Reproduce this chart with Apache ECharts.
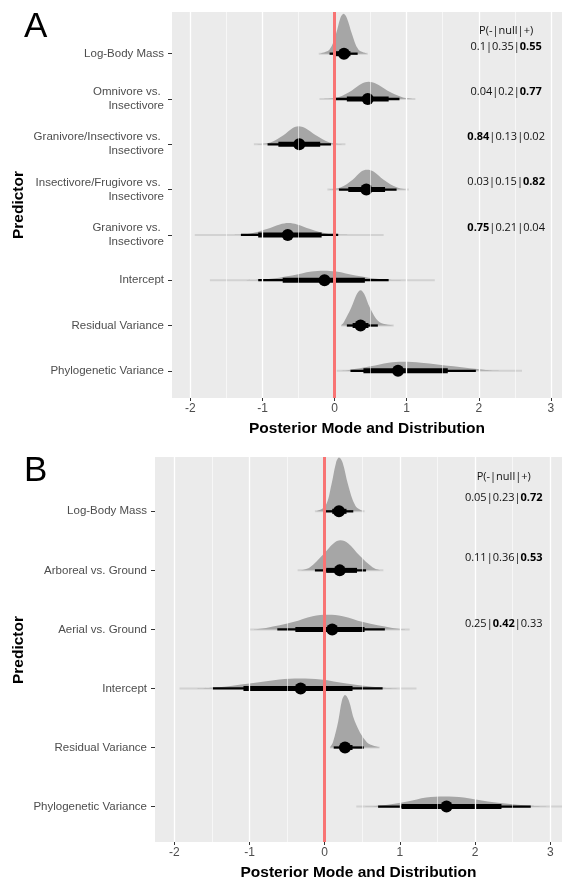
<!DOCTYPE html>
<html>
<head>
<meta charset="utf-8">
<title>Posterior mode and distribution</title>
<script src="https://cdn.jsdelivr.net/npm/echarts@6/dist/echarts.min.js"></script>
<style>
  html, body { margin: 0; padding: 0; background: #fff; }
  #chart { width: 562px; height: 882px; }
</style>
</head>
<body>
<div id="chart"></div>
<script>
// ---- panel A (diet model), rows listed top to bottom ----
const predictorsA = ['Log-Body Mass', 'Omnivore vs. \nInsectivore', 'Granivore/Insectivore vs. \nInsectivore',
  'Insectivore/Frugivore vs. \nInsectivore', 'Granivore vs. \nInsectivore', 'Intercept',
  'Residual Variance', 'Phylogenetic Variance']
const modesA = [0.13, 0.46, -0.49, 0.44, -0.65, -0.14, 0.36, 0.88]
const thickA = [[-0.01, 0.22], [0.17, 0.75], [-0.78, -0.2], [0.19, 0.7], [-1.06, -0.18], [-0.72, 0.42], [0.25, 0.47], [0.4, 1.57]]
const thinA = [[-0.07, 0.32], [0.0, 0.9], [-0.93, -0.05], [0.06, 0.86], [-1.3, 0.05], [-1.06, 0.75], [0.17, 0.6], [0.22, 1.96]]
const tailsA = [[-0.22, 0.46], [-0.21, 1.12], [-1.12, 0.15], [-0.1, 1.03], [-1.94, 0.68], [-1.73, 1.39], [0.09, 0.82], [0.03, 2.6]]
// density outline: [x, height in row units]
const densityA = [
  [[-0.20, 0], [-0.07, 0.09], [0.02, 0.44], [0.08, 0.79], [0.125, 0.88], [0.17, 0.79], [0.24, 0.44], [0.33, 0.09], [0.45, 0]],
  [[-0.18, 0], [0.05, 0.04], [0.24, 0.19], [0.38, 0.34], [0.47, 0.38], [0.57, 0.34], [0.73, 0.19], [0.94, 0.04], [1.1, 0]],
  [[-1.1, 0], [-0.89, 0.04], [-0.71, 0.2], [-0.58, 0.36], [-0.5, 0.40], [-0.41, 0.36], [-0.26, 0.2], [-0.07, 0.04], [0.13, 0]],
  [[-0.08, 0], [0.08, 0.044], [0.25, 0.22], [0.37, 0.40], [0.45, 0.44], [0.54, 0.40], [0.68, 0.22], [0.87, 0.044], [1.02, 0]],
  [[-1.40, 0], [-1.18, 0.026], [-0.94, 0.13], [-0.76, 0.23], [-0.64, 0.26], [-0.52, 0.23], [-0.34, 0.13], [-0.1, 0.026], [0.2, 0]],
  [[-1.26, 0], [-0.95, 0.021], [-0.59, 0.105], [-0.32, 0.19], [-0.15, 0.21], [0.02, 0.19], [0.29, 0.105], [0.65, 0.021], [0.96, 0]],
  [[0.09, 0], [0.13, 0.08], [0.23, 0.39], [0.31, 0.70], [0.36, 0.78], [0.41, 0.70], [0.49, 0.39], [0.62, 0.08], [0.82, 0]],
  [[0.03, 0], [0.2, 0.02], [0.5, 0.1], [0.75, 0.18], [0.95, 0.2], [1.2, 0.18], [1.65, 0.1], [2.1, 0.02], [2.4, 0]]
]
const probsA = [[0.1, 0.35, 0.55], [0.04, 0.2, 0.77], [0.84, 0.13, 0.02], [0.03, 0.15, 0.82], [0.75, 0.21, 0.04]]

// ---- panel B (foraging stratum model) ----
const predictorsB = ['Log-Body Mass', 'Arboreal vs. Ground', 'Aerial vs. Ground', 'Intercept',
  'Residual Variance', 'Phylogenetic Variance']
const modesB = [0.19, 0.2, 0.1, -0.32, 0.27, 1.62]
const thickB = [[0.1, 0.29], [0.02, 0.43], [-0.39, 0.53], [-1.08, 0.37], [0.2, 0.37], [1.02, 2.35]]
const thinB = [[-0.02, 0.38], [-0.13, 0.55], [-0.63, 0.8], [-1.49, 0.77], [0.12, 0.52], [0.71, 2.74]]
const tailsB = [[-0.13, 0.53], [-0.36, 0.78], [-1.0, 1.13], [-1.93, 1.22], [0.07, 0.73], [0.42, 3.16]]
const densityB = [
  [[-0.11, 0], [0.01, 0.09], [0.09, 0.455], [0.15, 0.82], [0.19, 0.91], [0.24, 0.82], [0.31, 0.455], [0.41, 0.09], [0.51, 0]],
  [[-0.33, 0], [-0.2, 0.05], [-0.03, 0.255], [0.12, 0.46], [0.21, 0.51], [0.31, 0.46], [0.46, 0.255], [0.64, 0.05], [0.75, 0]],
  [[-0.95, 0], [-0.78, 0.025], [-0.42, 0.125], [-0.16, 0.225], [0.04, 0.25], [0.24, 0.225], [0.51, 0.125], [0.9, 0.025], [1.08, 0]],
  [[-1.75, 0], [-1.45, 0.017], [-1.0, 0.085], [-0.6, 0.153], [-0.33, 0.17], [-0.05, 0.153], [0.29, 0.085], [0.75, 0.017], [1.0, 0]],
  [[0.07, 0], [0.11, 0.09], [0.18, 0.445], [0.23, 0.8], [0.27, 0.89], [0.32, 0.8], [0.40, 0.445], [0.56, 0.09], [0.73, 0]],
  [[0.5, 0], [0.75, 0.017], [1.1, 0.085], [1.35, 0.153], [1.59, 0.17], [1.85, 0.153], [2.17, 0.085], [2.7, 0.017], [3.0, 0]]
]
const probsB = [[0.05, 0.23, 0.72], [0.11, 0.36, 0.53], [0.25, 0.42, 0.33]]

const xTicks = [-2, -1, 0, 1, 2, 3]
const xMinor = [-1.5, -0.5, 0.5, 1.5, 2.5]
const xMin = -2.256
const xMax = 3.155

const labelFont = 'Liberation Sans, Arial, sans-serif'
const probFont = 'Open Sans, Noto Sans, sans-serif'

let chart = echarts.init(document.getElementById('chart'))

function probText (p) {
  let top = p.indexOf(Math.max(...p))
  return p.map((v, k) => k === top ? '{b|' + v + '}' : '{n|' + v + '}').join('{n||}')
}

function panel (g, names, modes, thick, thin, tails, dens, probs, probLift, headerY) {
  let n = names.length
  let rowY = i => n - 1 - i
  let rows = names.map((_, i) => [modes[i], rowY(i), i])
  let probRows = probs.map((p, i) => [2.38, rowY(i) + probLift[i], i])
  return [
    {
      // background grid lines
      type: 'line', xAxisIndex: g, yAxisIndex: g, data: [], silent: true, z: 1,
      markLine: {
        silent: true, symbol: 'none', label: { show: false }, animation: false,
        data: xMinor.map(v => ({ xAxis: v, lineStyle: { color: '#fff', width: 0.6, type: 'solid' } }))
          .concat(xTicks.map(v => ({ xAxis: v, lineStyle: { color: '#fff', width: 1.3, type: 'solid' } })))
      }
    },
    {
      type: 'custom', xAxisIndex: g, yAxisIndex: g, data: rows, encode: { x: 0, y: 1 }, z: 2, silent: true,
      renderItem: (params, api) => {
        let i = api.value(2)
        let base = rowY(i)
        let pts = dens[i].map(p => api.coord([p[0], base + p[1]]))
        let t0 = api.coord([tails[i][0], base])
        let t1 = api.coord([tails[i][1], base])
        return {
          type: 'group',
          children: [
            { type: 'line', shape: { x1: t0[0], y1: t0[1], x2: t1[0], y2: t1[1] }, style: { stroke: '#D2D2D2', lineWidth: 2 } },
            { type: 'polygon', shape: { points: pts, smooth: 0.35, smoothConstraint: [pts[0], pts[0]] }, style: { fill: '#A6A6A6' } }
          ]
        }
      }
    },
    {
      // zero reference line
      type: 'line', xAxisIndex: g, yAxisIndex: g, data: [], silent: true, z: 3,
      markLine: {
        silent: true, symbol: 'none', label: { show: false }, animation: false,
        data: [{ xAxis: 0, lineStyle: { color: '#F87474', width: 3, type: 'solid' } }]
      }
    },
    {
      type: 'custom', xAxisIndex: g, yAxisIndex: g, data: rows, encode: { x: 0, y: 1 }, z: 4, silent: true,
      renderItem: (params, api) => {
        let i = api.value(2)
        let base = rowY(i)
        let a = api.coord([thin[i][0], base]), b = api.coord([thin[i][1], base])
        let c = api.coord([thick[i][0], base]), d = api.coord([thick[i][1], base])
        let m = api.coord([modes[i], base])
        return {
          type: 'group',
          children: [
            { type: 'line', shape: { x1: a[0], y1: a[1], x2: b[0], y2: b[1] }, style: { stroke: '#000', lineWidth: 2.3 } },
            { type: 'line', shape: { x1: c[0], y1: c[1], x2: d[0], y2: d[1] }, style: { stroke: '#000', lineWidth: 5 } },
            { type: 'circle', shape: { cx: m[0], cy: m[1], r: 6 }, style: { fill: '#000' } }
          ]
        }
      }
    },
    {
      type: 'custom', xAxisIndex: g, yAxisIndex: g, data: probRows.concat([[2.38, headerY, -1]]),
      encode: { x: 0, y: 1 }, z: 5, silent: true,
      renderItem: (params, api) => {
        let i = api.value(2)
        let pt = api.coord([api.value(0), api.value(1)])
        return {
          type: 'text', x: pt[0], y: pt[1],
          style: {
            text: i < 0 ? '{n|P(-|null|+)}' : probText(probs[i]),
            align: 'center', verticalAlign: 'middle',
            rich: {
              n: { fontFamily: probFont, fontSize: 11, fill: '#111' },
              b: { fontFamily: probFont, fontSize: 11, fontWeight: 'bold', fill: '#000' }
            }
          }
        }
      }
    }
  ]
}

function xAxisFor (g) {
  return {
    type: 'value', gridIndex: g, min: xMin, max: xMax,
    name: 'Posterior Mode and Distribution', nameLocation: 'middle', nameGap: 23,
    nameTextStyle: { fontFamily: labelFont, fontSize: 15.5, fontWeight: 'bold', color: '#000' },
    axisLine: { show: false, onZero: false },
    axisTick: { show: true, customValues: xTicks, length: 3, lineStyle: { color: '#333' } },
    axisLabel: { customValues: xTicks, color: '#4D4D4D', fontFamily: labelFont, fontSize: 12, margin: 5 },
    splitLine: { show: false }
  }
}

function yAxisFor (g, names, top) {
  let n = names.length
  let vals = names.map((_, i) => i)
  return {
    type: 'value', gridIndex: g, min: -0.6, max: top,
    axisLine: { show: false, onZero: false },
    axisTick: { show: true, customValues: vals, length: 4, lineStyle: { color: '#333' } },
    axisLabel: {
      customValues: vals, color: '#4D4D4D', fontFamily: labelFont, fontSize: 11.5, lineHeight: 14, margin: 8,
      formatter: v => names[n - 1 - Math.round(v)]
    },
    splitLine: { show: false }
  }
}

let option = {
  backgroundColor: '#fff',
  animation: false,
  grid: [
    { left: 172, right: 0, top: 12, height: 386, show: true, backgroundColor: '#EBEBEB', borderWidth: 0 },
    { left: 155, right: 0, top: 457, height: 385, show: true, backgroundColor: '#EBEBEB', borderWidth: 0 }
  ],
  xAxis: [xAxisFor(0), xAxisFor(1)],
  yAxis: [yAxisFor(0, predictorsA, 7.92), yAxisFor(1, predictorsB, 5.92)],
  graphic: [
    { type: 'text', left: 24, top: 10, style: { text: 'A', font: '35px ' + labelFont, fill: '#000' } },
    { type: 'text', left: 24, top: 454, style: { text: 'B', font: '35px ' + labelFont, fill: '#000' } },
    { type: 'text', x: 19, y: 205, rotation: Math.PI / 2, style: { text: 'Predictor', font: 'bold 15.5px ' + labelFont, fill: '#000', align: 'center', verticalAlign: 'middle' } },
    { type: 'text', x: 19, y: 650, rotation: Math.PI / 2, style: { text: 'Predictor', font: 'bold 15.5px ' + labelFont, fill: '#000', align: 'center', verticalAlign: 'middle' } }
  ],
  series: panel(0, predictorsA, modesA, thickA, thinA, tailsA, densityA, probsA, [0.16, 0.16, 0.16, 0.16, 0.16], 7.5)
    .concat(panel(1, predictorsB, modesB, thickB, thinB, tailsB, densityB, probsB, [0.22, 0.22, 0.09], 5.58))
}

chart.setOption(option)
</script>
</body>
</html>
